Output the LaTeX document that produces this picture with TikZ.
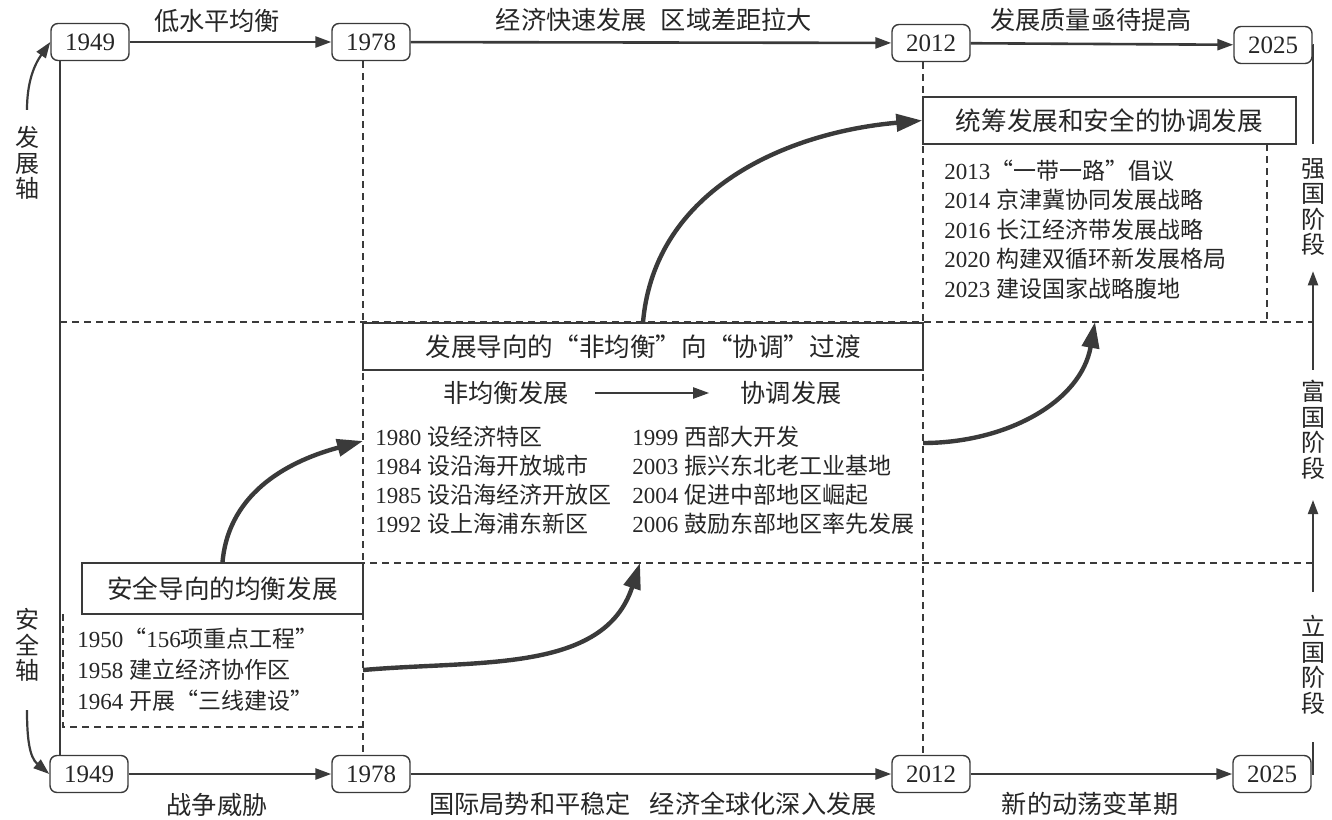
\documentclass[tikz,border=0pt]{standalone}
\usepackage{fontspec}
\setmainfont{Liberation Serif}
\newfontfamily\cjk{Noto Sans CJK SC}
\newcommand{\zh}[1]{{\cjk #1}}
\usetikzlibrary{arrows.meta, positioning, calc}
\definecolor{ink}{HTML}{3A3A3A}
\definecolor{txt}{HTML}{262626}
\tikzset{
    yearbox/.style={draw=ink, line width=0.7pt, rounded corners=3.5pt, fill=white, text=txt,
        minimum width=39pt, minimum height=18.5pt, inner sep=0pt, font=\fontsize{12.5}{14}\selectfont},
    eralabel/.style={text=txt, inner sep=0pt, font=\cjk\fontsize{12.6}{14}\selectfont},
    stagelabel/.style={text=txt, inner sep=0pt, align=center, font=\cjk\fontsize{12}{12.8}\selectfont},
    phasebox/.style={draw=ink, line width=0.7pt, fill=white, text=txt, inner sep=0pt,
        minimum height=23.5pt, font=\cjk\fontsize{12.8}{14}\selectfont},
    listitem/.style={text=txt, inner sep=0pt, anchor=west, font=\fontsize{11.5}{13}\selectfont},
    timeline/.style={draw=ink, line width=1.3pt, -{Triangle[length=8pt,width=5.5pt]}},
    stagearrow/.style={draw=ink, line width=1pt, -{Triangle[length=7pt,width=5pt]}},
    axisarrow/.style={draw=ink, line width=1.1pt, -{Triangle[length=8pt,width=5.5pt]}},
    leap/.style={draw=ink, line width=2.2pt, -{Triangle[length=13pt,width=8.5pt]}},
    gridline/.style={draw=ink, line width=0.7pt, dash pattern=on 3.5pt off 2.5pt},
}

\begin{document}
\begin{tikzpicture}[x=0.5pt, y=0.5pt]
    \useasboundingbox (0,0) rectangle (1332,-819);
    \coordinate (xL) at (60,0);
    \coordinate (x78) at (363,0);
    \coordinate (x12) at (923,0);
    % years, top and bottom
    \node[yearbox] (t1949) at (90,-42) {1949};
    \node[yearbox] (t1978) at (371,-42) {1978};
    \node[yearbox] (t2012) at (931,-43) {2012};
    \node[yearbox] (t2025) at (1273,-45) {2025};
    \node[yearbox] (b1949) at (89,-774) {1949};
    \node[yearbox] (b1978) at (371,-774) {1978};
    \node[yearbox] (b2012) at (931,-774) {2012};
    \node[yearbox] (b2025) at (1272,-774) {2025};
    % grid
    \draw[gridline] (t1978.south -| x78) -- (b1978.north -| x78);
    \draw[gridline] (t2012.south -| x12) -- (b2012.north -| x12);
    \draw[gridline] (60,-322) -- (1313,-322);
    \draw[gridline] (82,-563) -- (1313,-563);
    \draw[gridline] (1267,-144) -- (1267,-322);
    \draw[gridline] (63,-614) -- (63,-727) -- (363,-727);
    % phases
    \node[phasebox, minimum width=186.5pt] (coordbox) at (1109.5,-120.5) {统筹发展和安全的协调发展};
    \node[phasebox, minimum width=280pt] (devbox) at (643,-346.5) {发展导向的“非均衡”向“协调”过渡};
    \node[phasebox, minimum width=140.5pt, minimum height=25.5pt] (safebox) at (222.5,-588.5) {安全导向的均衡发展};
    \node[eralabel] (uneven) at (506,-393) {非均衡发展};
    \node[eralabel] (even) at (791,-393) {协调发展};
    \draw[timeline, line width=1.1pt] ([xshift=13pt]uneven.east) -- ([xshift=-15.5pt]even.west);
    \foreach \t [count=\i] in {1980 \zh{设经济特区}, 1984 \zh{设沿海开放城市},
        1985 \zh{设沿海经济开放区}, 1992 \zh{设上海浦东新区}}
        \node[listitem] (dl\i) at (375,-408-29*\i) {\t};
    \foreach \t [count=\i] in {1999 \zh{西部大开发}, 2003 \zh{振兴东北老工业基地},
        2004 \zh{促进中部地区崛起}, 2006 \zh{鼓励东部地区率先发展}}
        \node[listitem] (dr\i) at (632,-408-29*\i) {\t};
    \foreach \t [count=\i] in {2013\zh{“一带一路”倡议}, 2014 \zh{京津冀协同发展战略},
        2016 \zh{长江经济带发展战略}, 2020 \zh{构建双循环新发展格局}, 2023 \zh{建设国家战略腹地}}
        \node[listitem] (cl\i) at (944,-141-29.5*\i) {\t};
    \foreach \t [count=\i] in {1950\zh{“}156\zh{项重点工程”}, 1958 \zh{建立经济协作区},
        1964 \zh{开展“三线建设”}}
        \node[listitem] (sl\i) at (77,-608-31*\i) {\t};
    % eras
    \node[eralabel] (e1) at (217,-21) {低水平均衡};
    \node[eralabel] (e2) at (654,-20) {经济快速发展\hspace{0.55em}区域差距拉大};
    \node[eralabel] (e3) at (1091,-20) {发展质量亟待提高};
    \node[eralabel] (f1) at (217,-805) {战争威胁};
    \node[eralabel] (f2) at (653,-804) {国际局势和平稳定\hspace{0.75em}经济全球化深入发展};
    \node[eralabel] (f3) at (1090,-804) {新的动荡变革期};
    \draw[timeline] (t1949) -- (t1978);
    \draw[timeline] (t1978) -- (t2012);
    \draw[timeline] (t2012) -- (t2025);
    \draw[timeline] (b1949) -- (b1978);
    \draw[timeline] (b1978) -- (b2012);
    \draw[timeline] (b2012) -- (b2025);
    % axes
    \node[stagelabel] (sDev) at (27,-163) {发\\展\\轴};
    \node[stagelabel] (sSafe) at (27,-645) {安\\全\\轴};
    \node[stagelabel] (sStrong) at (1313,-207) {强\\国\\阶\\段};
    \node[stagelabel] (sRich) at (1313,-430) {富\\国\\阶\\段};
    \node[stagelabel] (sFound) at (1313,-665) {立\\国\\阶\\段};
    \draw[ink, line width=0.9pt] (t1949.south -| xL) -- (b1949.north -| xL);
    \draw[axisarrow] ([yshift=8pt]sDev.north) to[out=90, in=235] (t1949.west);
    \draw[axisarrow] ([yshift=-14pt]sSafe.south) to[out=-90, in=140] (b1949.west);
    \draw[ink, line width=1pt] (t2025.east) -| ([yshift=7pt]sStrong.north);
    \draw[stagearrow] ([yshift=5pt]sRich.north) -- ([yshift=-7.5pt]sStrong.south);
    \draw[stagearrow] ([yshift=11.5pt]sFound.north) -- ([yshift=-10pt]sRich.south);
    \draw[ink, line width=1pt] (b2025.east) -| ([yshift=-13.5pt]sFound.south);
    % transitions
    \coordinate (devIn) at (363,-441);
    \coordinate (safeOut) at (363,-670);
    \coordinate (devUp) at (640,-563);
    \coordinate (devOut) at (923,-443);
    \coordinate (coordUp) at (1095,-322);
    \draw[leap] (safebox.north) to[out=85, in=195] (devIn);
    \draw[leap] (safeOut) to[out=5, in=-108] (devUp);
    \draw[leap] (devbox.north) to[out=85, in=185] (coordbox.west);
    \draw[leap] (devOut) to[out=0, in=-100] (coordUp);
\end{tikzpicture}
\end{document}
